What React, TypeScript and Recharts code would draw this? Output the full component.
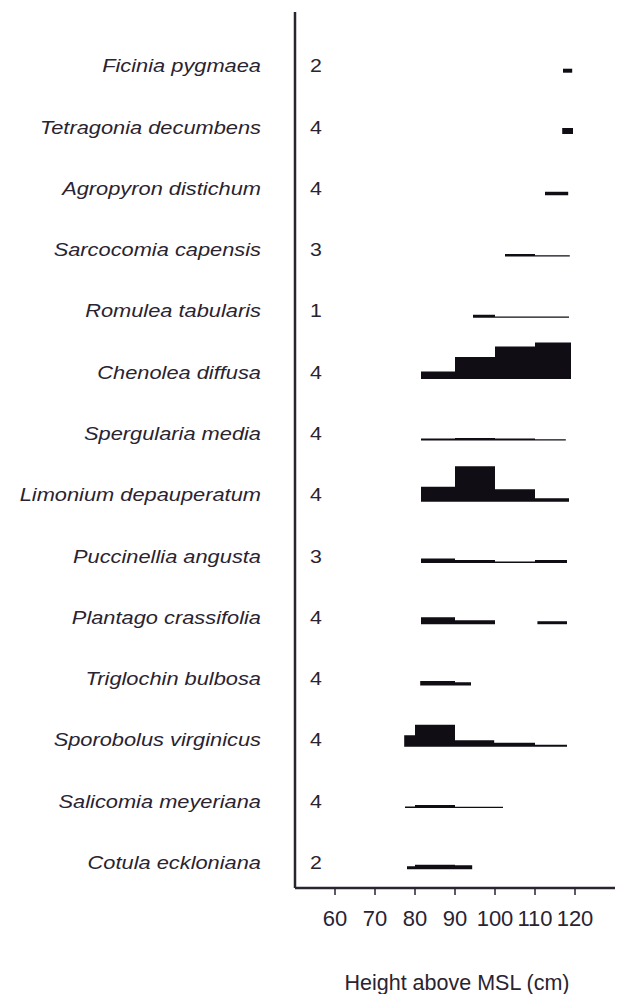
import React from 'react';
import { ComposedChart, Area, XAxis, YAxis } from 'recharts';

// Species in the order they are listed, top to bottom
const SPECIES = [
  'Ficinia pygmaea',
  'Tetragonia decumbens',
  'Agropyron distichum',
  'Sarcocomia capensis',
  'Romulea tabularis',
  'Chenolea diffusa',
  'Spergularia media',
  'Limonium depauperatum',
  'Puccinellia angusta',
  'Plantago crassifolia',
  'Triglochin bulbosa',
  'Sporobolus virginicus',
  'Salicomia meyeriana',
  'Cotula eckloniana',
];

// Number of transects each species was recorded in
const TRANSECT_COUNTS = [2, 4, 4, 3, 1, 4, 4, 4, 3, 4, 4, 4, 4, 2];

const HEIGHT_TICKS = [60, 70, 80, 90, 100, 110, 120];

// Abundance bands per species: [from cm, to cm, abundance]
type Band = [number, number, number];
const ficinia: Band[] = [[117, 119.3, 4]];
const tetragonia: Band[] = [[116.8, 119.5, 6]];
const agropyron: Band[] = [[112.5, 118.3, 3.5]];
const sarcocornia: Band[] = [[102.5, 110, 2.5], [110, 118.7, 1.2]];
const romulea: Band[] = [[94.5, 100, 3], [100, 118.5, 1.2]];
const chenolea: Band[] = [[81.5, 90, 7.5], [90, 100, 22], [100, 110, 32.5], [110, 119, 36.5]];
const spergularia: Band[] = [[81.5, 90, 2], [90, 100, 2.5], [100, 110, 2], [110, 117.7, 1.2]];
const limonium: Band[] = [[81.5, 90, 15], [90, 100, 35.5], [100, 110, 12.3], [110, 118.5, 3.3]];
const puccinellia: Band[] = [[81.5, 90, 4.5], [90, 100, 3], [100, 110, 1.5], [110, 118, 3]];
const plantago: Band[] = [[81.5, 90, 7], [90, 100, 4], [110.6, 118, 3]];
const triglochin: Band[] = [[81.3, 90, 4.5], [90, 94, 3.2]];
const sporobolus: Band[] = [[77.3, 80, 11.5], [80, 90, 22], [90, 99.8, 6.5], [99.8, 110, 4], [110, 118, 2]];
const salicornia: Band[] = [[77.5, 80, 1.5], [80, 90, 3], [90, 102, 1.2]];
const cotula: Band[] = [[78, 80, 3], [80, 90, 4.5], [90, 94.3, 4]];

const BANDS: Band[][] = [
  ficinia, tetragonia, agropyron, sarcocornia, romulea, chenolea, spergularia,
  limonium, puccinellia, plantago, triglochin, sporobolus, salicornia, cotula,
];

// Vertical layout: the y scale runs 1 unit per pixel of plot height
const PLOT_HEIGHT = 876;
const FIRST_ROW_BASE = 815.3;
const ROW_STEP = 61.28;
const LABEL_RAISE = 7;

const rowBase = (i: number) => FIRST_ROW_BASE - i * ROW_STEP;
const LABEL_TICKS = SPECIES.map((_, i) => rowBase(i) + LABEL_RAISE);

type ProfilePoint = { h: number; r: [number, number] };

// Split a species' bands into contiguous runs, each drawn as one stepped area
function buildRuns(bands: Band[], base: number): ProfilePoint[][] {
  const runs: ProfilePoint[][] = [];
  let current: ProfilePoint[] = [];
  bands.forEach(([from, to, v], k) => {
    const prev = bands[k - 1];
    if (prev && from > prev[1] + 0.01) {
      runs.push(current);
      current = [];
    }
    current.push({ h: from, r: [base, base + v] });
    current.push({ h: to, r: [base, base + v] });
  });
  if (current.length) runs.push(current);
  return runs;
}

const INK = '#2a2330';
const MARK = '#110d15';
const FONT = '"Liberation Sans", Arial, Helvetica, sans-serif';

const SpeciesTick = (props: any) => {
  const { x, y, payload } = props;
  const idx = LABEL_TICKS.findIndex((t) => Math.abs(t - payload.value) < 1);
  if (idx < 0) return null;
  return (
    <g>
      <text
        transform={`translate(${x - 34},${y}) scale(1.18,1)`}
        textAnchor="end"
        dy="0.36em"
        fontFamily={FONT}
        fontStyle="italic"
        fontSize={18.5}
        fill={INK}
      >
        {SPECIES[idx]}
      </text>
      <text
        transform={`translate(${x + 21},${y}) scale(1.15,1)`}
        textAnchor="middle"
        dy="0.36em"
        fontFamily={FONT}
        fontSize={18.5}
        fill={INK}
      >
        {TRANSECT_COUNTS[idx]}
      </text>
    </g>
  );
};

const AxisTitle = (props: any) => {
  const vb = props.viewBox || {};
  return (
    <text
      x={vb.x + vb.width / 2 + 2}
      y={vb.y + 102}
      textAnchor="middle"
      fontFamily={FONT}
      fontSize={21.5}
      fill={INK}
    >
      Height above MSL (cm)
    </text>
  );
};

export default function App() {
  const areas: React.ReactNode[] = [];
  BANDS.forEach((bands, i) => {
    buildRuns(bands, rowBase(i)).forEach((run, j) => {
      areas.push(
        <Area
          key={`${i}-${j}`}
          data={run}
          dataKey="r"
          type="linear"
          fill={MARK}
          fillOpacity={1}
          stroke="none"
          dot={false}
          activeDot={false}
          isAnimationActive={false}
        />
      );
    });
  });

  return (
    <div style={{ position: 'absolute', left: 0, top: 0, background: '#fff' }}>
      <ComposedChart
        width={617}
        height={994}
        margin={{ top: 12, right: 2, bottom: 0, left: 0 }}
      >
        <XAxis
          type="number"
          dataKey="h"
          domain={[50, 130]}
          allowDataOverflow
          ticks={HEIGHT_TICKS}
          interval={0}
          height={106}
          axisLine={{ stroke: INK, strokeWidth: 2.5 }}
          tickLine={{ stroke: INK, strokeWidth: 1.5 }}
          tickSize={7}
          tickMargin={15}
          tick={{ fill: INK, fontSize: 22, fontFamily: FONT }}
          label={<AxisTitle />}
        />
        <YAxis
          type="number"
          domain={[0, PLOT_HEIGHT]}
          allowDataOverflow
          ticks={LABEL_TICKS}
          interval={0}
          width={295}
          axisLine={{ stroke: INK, strokeWidth: 2.5 }}
          tickLine={false}
          tickSize={0}
          tickMargin={0}
          tick={<SpeciesTick />}
        />
        {areas}
      </ComposedChart>
    </div>
  );
}
